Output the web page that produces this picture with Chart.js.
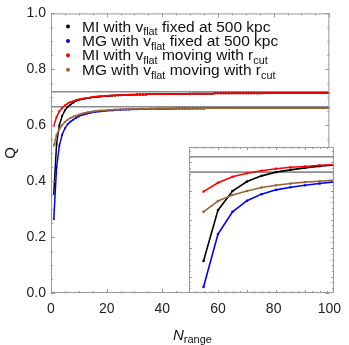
<!DOCTYPE html>
<html>
<head>
<meta charset="utf-8">
<script src="https://cdn.jsdelivr.net/npm/chart.js@4.4.0/dist/chart.umd.min.js"></script>
<style>
  body { margin: 0; background: #fff; }
  #wrap { position: relative; width: 349px; height: 345px; overflow: hidden; }
  #grafica { position: absolute; left: 0; top: 0; }
  #insetBox { position: absolute; left: 189px; top: 147px; width: 145px; height: 146px; }
</style>
</head>
<body>
<div id="wrap">
  <canvas id="grafica" width="349" height="345"></canvas>
  <div id="insetBox"><canvas id="inset" width="145" height="146"></canvas></div>
</div>
<script>
// N_range = 1..100
const nRange = Array.from({ length: 100 }, (_, i) => i + 1);

// MI with v_flat fixed at 500 kpc (black)
const miFixed = [
  0.355, 0.533, 0.600, 0.633, 0.653, 0.666, 0.674, 0.681, 0.687, 0.691,
  0.693, 0.695, 0.697, 0.698, 0.700, 0.701, 0.702, 0.703, 0.704, 0.704,
  0.705, 0.706, 0.706, 0.707, 0.707, 0.708, 0.708, 0.708, 0.709, 0.709,
  0.710, 0.710, 0.710, 0.710, 0.711, 0.711, 0.711, 0.711, 0.711, 0.711,
  0.712, 0.712, 0.712, 0.712, 0.712, 0.712, 0.712, 0.712, 0.712, 0.713,
  0.713, 0.713, 0.713, 0.713, 0.713, 0.713, 0.713, 0.713, 0.714, 0.714,
  0.714, 0.714, 0.714, 0.714, 0.714, 0.714, 0.714, 0.714, 0.714, 0.714,
  0.714, 0.714, 0.714, 0.714, 0.714, 0.714, 0.715, 0.715, 0.715, 0.715,
  0.715, 0.715, 0.715, 0.715, 0.715, 0.715, 0.715, 0.715, 0.715, 0.715,
  0.715, 0.715, 0.715, 0.715, 0.715, 0.715, 0.715, 0.715, 0.715, 0.715
];
// MG with v_flat fixed at 500 kpc (blue)
const mgFixed = [
  0.264, 0.449, 0.527, 0.566, 0.589, 0.604, 0.613, 0.620, 0.626, 0.632,
  0.636, 0.639, 0.642, 0.644, 0.646, 0.648, 0.649, 0.650, 0.651, 0.652,
  0.653, 0.653, 0.654, 0.655, 0.655, 0.656, 0.656, 0.656, 0.657, 0.657,
  0.657, 0.658, 0.658, 0.658, 0.658, 0.659, 0.659, 0.659, 0.659, 0.659,
  0.659, 0.659, 0.659, 0.659, 0.660, 0.660, 0.660, 0.660, 0.660, 0.660,
  0.660, 0.660, 0.660, 0.660, 0.660, 0.661, 0.661, 0.661, 0.661, 0.661,
  0.661, 0.661, 0.661, 0.661, 0.661, 0.661, 0.661, 0.661, 0.661, 0.661,
  0.661, 0.661, 0.661, 0.661, 0.661, 0.661, 0.661, 0.661, 0.661, 0.661,
  0.661, 0.661, 0.661, 0.661, 0.661, 0.661, 0.661, 0.661, 0.661, 0.661,
  0.661, 0.661, 0.661, 0.661, 0.661, 0.661, 0.661, 0.661, 0.661, 0.661
];
// MI with v_flat moving with r_cut (red)
const miMoving = [
  0.598, 0.629, 0.650, 0.662, 0.671, 0.678, 0.683, 0.686, 0.690, 0.692,
  0.694, 0.696, 0.698, 0.699, 0.701, 0.702, 0.703, 0.704, 0.704, 0.705,
  0.706, 0.706, 0.707, 0.707, 0.708, 0.708, 0.708, 0.709, 0.709, 0.709,
  0.710, 0.710, 0.710, 0.710, 0.711, 0.711, 0.711, 0.711, 0.711, 0.711,
  0.712, 0.712, 0.712, 0.712, 0.712, 0.712, 0.712, 0.712, 0.712, 0.713,
  0.713, 0.713, 0.713, 0.713, 0.713, 0.713, 0.713, 0.713, 0.714, 0.714,
  0.714, 0.714, 0.714, 0.714, 0.714, 0.714, 0.714, 0.714, 0.714, 0.714,
  0.714, 0.714, 0.714, 0.714, 0.714, 0.714, 0.715, 0.715, 0.715, 0.715,
  0.715, 0.715, 0.715, 0.715, 0.715, 0.715, 0.715, 0.715, 0.715, 0.715,
  0.715, 0.715, 0.715, 0.715, 0.715, 0.715, 0.715, 0.715, 0.715, 0.715
];
// MG with v_flat moving with r_cut (brown)
const mgMoving = [
  0.527, 0.565, 0.586, 0.600, 0.612, 0.620, 0.626, 0.631, 0.634, 0.638,
  0.641, 0.644, 0.646, 0.648, 0.649, 0.651, 0.652, 0.653, 0.653, 0.654,
  0.655, 0.655, 0.656, 0.656, 0.657, 0.657, 0.657, 0.658, 0.658, 0.658,
  0.658, 0.659, 0.659, 0.659, 0.659, 0.659, 0.659, 0.660, 0.660, 0.660,
  0.660, 0.660, 0.660, 0.660, 0.660, 0.660, 0.660, 0.660, 0.660, 0.660,
  0.661, 0.661, 0.661, 0.661, 0.661, 0.661, 0.661, 0.661, 0.661, 0.661,
  0.661, 0.661, 0.661, 0.661, 0.661, 0.661, 0.661, 0.661, 0.661, 0.661,
  0.661, 0.661, 0.661, 0.661, 0.661, 0.661, 0.661, 0.661, 0.661, 0.661,
  0.661, 0.661, 0.661, 0.661, 0.661, 0.661, 0.661, 0.661, 0.661, 0.661,
  0.661, 0.661, 0.661, 0.661, 0.661, 0.661, 0.661, 0.661, 0.661, 0.661
];
// horizontal gray reference lines
const refLines = [0.72, 0.666];
const xTicks = [0, 20, 40, 60, 80, 100];

// legend text, [text, subscript?]
const legendLabels = [
  [["MI with v", false], ["flat", true], [" fixed at 500 kpc", false]],
  [["MG with v", false], ["flat", true], [" fixed at 500 kpc", false]],
  [["MI with v", false], ["flat", true], [" moving with r", false], ["cut", true]],
  [["MG with v", false], ["flat", true], [" moving with r", false], ["cut", true]]
];
const seriesColors = ["#000000", "#0000ff", "#ff0000", "#996633"];
const seriesData = [miFixed, mgFixed, miMoving, mgMoving];

const FONT = "'Liberation Sans', Arial, sans-serif";
const FRAME = "#9a9a9a";

function buildDatasets(pointRadius, lineWidth) {
  const sets = seriesData.map((vals, k) => ({
    data: nRange.map((n, i) => ({ x: n, y: vals[i] })),
    borderColor: seriesColors[k],
    backgroundColor: seriesColors[k],
    borderWidth: lineWidth,
    pointStyle: "rect",
    pointRadius: pointRadius,
    pointBorderWidth: 0,
    order: 4 - k,
  }));
  refLines.forEach((v) => {
    sets.push({
      data: [{ x: 0, y: v }, { x: 100, y: v }],
      borderColor: "#8c8c8c",
      borderWidth: 1.6,
      pointRadius: 0,
      order: 10,
    });
  });
  return sets;
}

// frame with inward ticks on all four sides
function framePlugin(xMajor, xMinor, yMajor, yMinor, majLen, minLen) {
  return {
    id: "frame",
    beforeDatasetsDraw(chart) {
      const { ctx, chartArea: a } = chart;
      ctx.save();
      ctx.fillStyle = "#fff";
      ctx.fillRect(a.left, a.top, a.right - a.left, a.bottom - a.top);
      ctx.restore();
    },
    afterDatasetsDraw(chart) {
      const { ctx, chartArea: a, scales } = chart;
      const xs = scales.x, ys = scales.y;
      ctx.save();
      ctx.strokeStyle = FRAME;
      ctx.lineWidth = 1;
      ctx.strokeRect(a.left + 0.5, a.top + 0.5, a.right - a.left - 1, a.bottom - a.top - 1);
      ctx.beginPath();
      const eps = 1e-9;
      for (let v = Math.ceil(xs.min / xMinor) * xMinor; v <= xs.max + eps; v += xMinor) {
        const px = Math.round(xs.getPixelForValue(v)) + 0.5;
        const isMaj = Math.abs(v / xMajor - Math.round(v / xMajor)) < 1e-6;
        const L = isMaj ? majLen : minLen;
        ctx.moveTo(px, a.bottom); ctx.lineTo(px, a.bottom - L);
        ctx.moveTo(px, a.top); ctx.lineTo(px, a.top + L);
      }
      for (let v = Math.ceil(ys.min / yMinor) * yMinor; v <= ys.max + eps; v += yMinor) {
        const py = Math.round(ys.getPixelForValue(v)) + 0.5;
        const isMaj = Math.abs(v / yMajor - Math.round(v / yMajor)) < 1e-6;
        const L = isMaj ? majLen : minLen;
        ctx.moveTo(a.left, py); ctx.lineTo(a.left + L, py);
        ctx.moveTo(a.right, py); ctx.lineTo(a.right - L, py);
      }
      ctx.stroke();
      ctx.restore();
    },
  };
}

function drawRich(ctx, parts, x, y, size) {
  let cx = x;
  parts.forEach(([txt, sub]) => {
    ctx.font = (sub ? size * 0.7 : size) + "px " + FONT;
    ctx.fillText(txt, cx, sub ? y + size * 0.25 : y);
    cx += ctx.measureText(txt).width;
  });
}

const legendPlugin = {
  id: "richLegend",
  afterDraw(chart) {
    const ctx = chart.ctx;
    ctx.save();
    ctx.textBaseline = "alphabetic";
    legendLabels.forEach((parts, i) => {
      const cy = 26.5 + i * 14.4;
      ctx.fillStyle = seriesColors[i];
      ctx.beginPath();
      ctx.arc(68, cy, 2, 0, Math.PI * 2);
      ctx.fill();
      ctx.fillStyle = "#111";
      drawRich(ctx, parts, 82, cy + 5, 15.5);
    });
    // axis titles
    ctx.fillStyle = "#111";
    ctx.font = "15px " + FONT;
    ctx.save();
    ctx.translate(15, 153);
    ctx.rotate(-Math.PI / 2);
    ctx.textAlign = "center";
    ctx.fillText("Q", 0, 0);
    ctx.restore();
    ctx.font = "italic 15px " + FONT;
    ctx.fillText("N", 173, 340);
    const w = ctx.measureText("N").width;
    ctx.font = "11px " + FONT;
    ctx.fillText("range", 173 + w, 343);
    ctx.restore();
  },
};

const tickFont = { size: 14, family: FONT };

new Chart(document.getElementById("grafica"), {
  type: "line",
  data: { datasets: buildDatasets(1.3, 1.5) },
  options: {
    responsive: false,
    animation: false,
    devicePixelRatio: 1,
    layout: { autoPadding: false, padding: { top: 10, right: 15, left: 0, bottom: 0 } },
    plugins: { legend: { display: false }, tooltip: { enabled: false } },
    scales: {
      x: {
        type: "linear", min: 0, max: 100,
        afterBuildTicks: (s) => { s.ticks = xTicks.map((v) => ({ value: v })); },
        ticks: { autoSkip: false, padding: 8, color: "#222", font: tickFont, maxRotation: 0 },
        grid: { display: false, drawTicks: false },
        border: { display: false },
        afterFit: (s) => { s.height = 52; },
      },
      y: {
        min: 0, max: 1,
        ticks: { stepSize: 0.2, padding: 5, color: "#222", font: tickFont, callback: (v) => v.toFixed(1) },
        grid: { display: false, drawTicks: false },
        border: { display: false },
        afterFit: (s) => { s.width = 51; },
      },
    },
  },
  plugins: [framePlugin(20, 5, 0.2, 0.05, 4, 2), legendPlugin],
});

new Chart(document.getElementById("inset"), {
  type: "line",
  data: { datasets: buildDatasets(1.6, 1.6) },
  options: {
    responsive: false,
    animation: false,
    devicePixelRatio: 1,
    layout: { autoPadding: false, padding: 0 },
    plugins: { legend: { display: false }, tooltip: { enabled: false } },
    scales: {
      x: { type: "linear", min: 0, max: 10, display: false },
      y: { min: 0.243, max: 0.754, display: false },
    },
  },
  plugins: [framePlugin(2, 0.5, 0.1, 0.02, 3, 2)],
});
</script>
</body>
</html>
